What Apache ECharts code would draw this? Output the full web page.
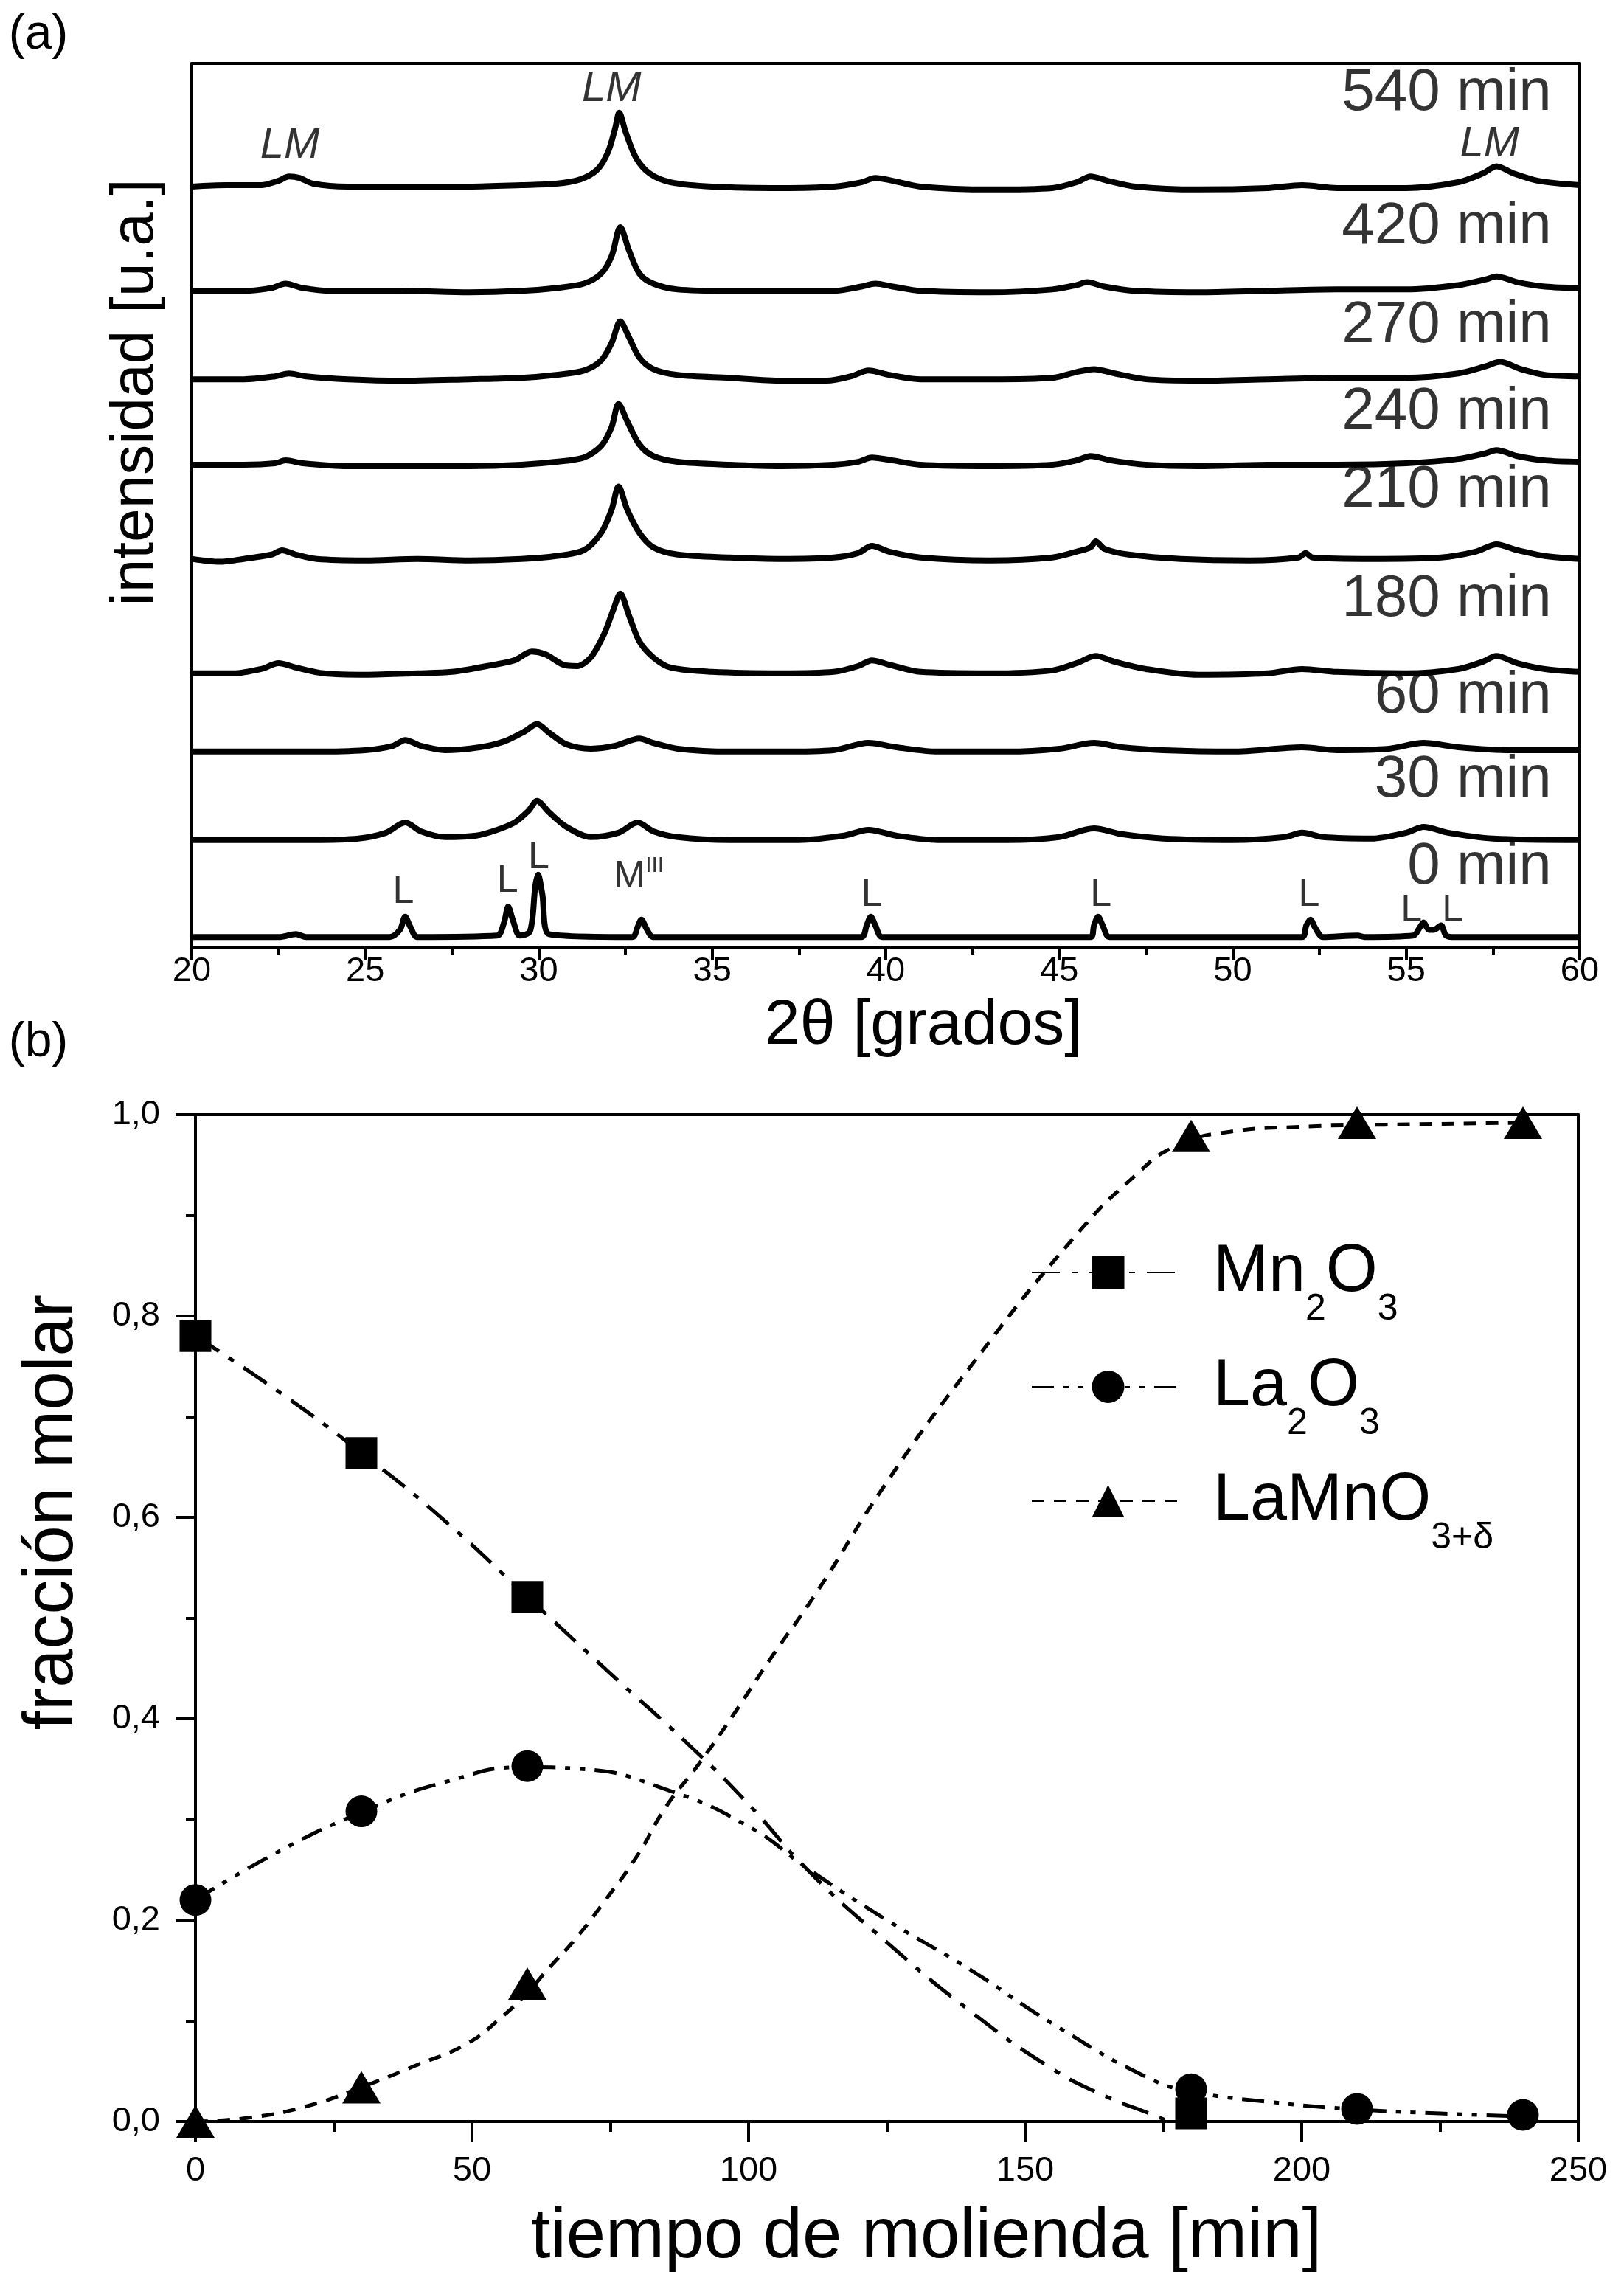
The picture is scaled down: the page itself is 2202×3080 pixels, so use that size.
<!DOCTYPE html>
<html>
<head>
<meta charset="utf-8">
<script src="https://cdn.jsdelivr.net/npm/echarts@6/dist/echarts.min.js"></script>
<style>html,body{margin:0;padding:0;background:#fff}#c{width:2202px;height:3080px}</style>
</head>
<body>
<div id="c"></div>
<script>
// ================= Panel (a): XRD patterns =================
// [2theta (grados), intensity in arbitrary offset units]
const xrd540 = [[20,528],[21,529],[22,529],[22.5,532],[22.8,535],[23.1,534],[23.5,530],[24.5,528],[26,528],[28,528],[29.5,529],[30.5,530],[31.2,533],[31.7,540],[32.0,552],[32.2,568],[32.32,579],[32.5,566],[32.8,548],[33.2,537],[33.8,531],[35,528],[37,527],[38.5,528],[39.3,531],[39.7,534],[40.2,532],[41,528],[43,526],[44.8,527],[45.5,531],[45.9,535],[46.4,532],[47.2,528],[49,526],[51,527],[52,529],[53,527],[55,527],[56.5,531],[57.2,537],[57.6,542],[58.1,537],[58.8,532],[60,529]];
const xrd420 = [[20,456],[21.5,456],[22.3,458],[22.7,461],[23.2,458],[24,456],[26,456],[28,455],[29.5,456],[30.5,458],[31.3,461],[31.8,468],[32.1,480],[32.35,500],[32.6,484],[32.9,468],[33.3,461],[34,457],[35.5,456],[37,456],[38.5,456],[39.3,459],[39.7,461],[40.2,459],[41,456],[43,455],[44.8,457],[45.5,460],[45.8,462],[46.3,459],[47.2,456],[49,455],[51,456],[53,457],[55,457],[56.5,460],[57.3,464],[57.6,466],[58.2,462],[59,459],[60,458]];
const xrd270 = [[20,395],[21.5,395],[22.4,397],[22.8,399],[23.3,397],[24.5,395],[26,394],[28,395],[29.5,396],[30.5,398],[31.3,401],[31.8,408],[32.1,420],[32.35,435],[32.6,424],[32.9,410],[33.3,402],[34,398],[35.5,396],[37,394],[38.3,394],[39,397],[39.5,401],[40.1,398],[41,395],[43,395],[44.8,396],[45.5,400],[46,402],[46.6,399],[47.5,395],[49,394],[51,395],[53,396],[55,396],[56.5,399],[57.3,404],[57.7,407],[58.3,402],[59,398],[60,397]];
const xrd240 = [[20,336],[21.5,336],[22.4,337],[22.7,339],[23.2,337],[24.5,335],[26,335],[28,335],[29.5,336],[30.5,338],[31.3,341],[31.8,349],[32.1,362],[32.3,378],[32.55,366],[32.9,350],[33.3,342],[34,338],[35.5,336],[37,335],[38.5,336],[39.2,338],[39.6,341],[40.2,339],[41,336],[43,335],[44.8,336],[45.5,339],[45.9,342],[46.5,339],[47.5,336],[49,335],[51,336],[53,336],[55,337],[56.5,340],[57.3,344],[57.6,346],[58.2,342],[59,339],[60,338]];
const xrd210 = [[20,271],[20.8,269],[21.5,271],[22.3,274],[22.6,277],[23.0,274],[23.6,271],[25,270],[26.5,271],[28,270],[29.5,271],[30.5,273],[31.3,277],[31.8,289],[32.1,305],[32.3,321],[32.55,305],[32.9,289],[33.3,279],[34,274],[35.5,272],[37,271],[38.5,272],[39.2,275],[39.6,280],[40.1,276],[41,272],[43,270],[44.8,272],[45.5,276],[45.9,279],[46.05,283],[46.3,278],[47,274],[48.5,271],[50.5,270],[51.9,272],[52.1,275],[52.3,272],[54,271],[56,272],[57,276],[57.6,281],[58.2,277],[59,273],[60,271]];
const xrd180 = [[20,192],[21.2,192],[22.0,195],[22.5,199],[23.0,196],[23.8,192],[25,191],[26.5,192],[27.5,193],[28.5,197],[29.3,201],[29.8,207],[30.2,205],[30.7,198],[31.1,197],[31.5,203],[31.9,220],[32.15,236],[32.35,247],[32.6,232],[32.9,214],[33.3,203],[33.8,196],[35,193],[37,192],[38.5,193],[39.2,197],[39.6,201],[40.1,198],[41,193],[43,192],[44.8,194],[45.5,199],[46.05,204],[46.6,200],[47.5,195],[49,191],[51,192],[52,195],[53,193],[55,192],[56.5,195],[57.2,200],[57.6,204],[58.2,199],[59,195],[60,193]];
const xrd60 = [[20,138],[22,138],[23.5,138],[25,139],[25.8,142],[26.15,146],[26.6,142],[27.3,139],[28.3,141],[29.0,145],[29.6,152],[29.95,157],[30.3,151],[30.8,143],[31.5,140],[32.2,142],[32.9,147],[33.3,144],[34,140],[35.5,138],[37,138],[38.5,139],[39.5,144],[40.3,141],[41.5,138],[43.5,138],[45,140],[46.0,144],[46.8,141],[48,139],[50,138],[52,141],[53,139],[54.5,140],[55.5,144],[56.5,141],[58,139],[60,139]];
const xrd30 = [[20,77],[22,77],[23.5,77],[24.8,78],[25.6,82],[26.15,89],[26.6,83],[27.3,79],[28.2,80],[28.8,84],[29.3,89],[29.7,97],[29.95,104],[30.3,96],[30.8,86],[31.5,79],[32.3,82],[32.85,89],[33.3,83],[34,79],[35.5,77],[37.5,77],[38.8,80],[39.5,84],[40.3,80],[41.5,77],[43.5,77],[45,79],[46.0,85],[46.8,81],[48,78],[50,77],[51.5,79],[52.0,82],[52.6,79],[54,78],[55.0,82],[55.5,86],[56.2,82],[57.5,78],[60,77]];
const xrd0 = [[20,10],[22.5,10],[23.0,12],[23.3,10],[25.7,10],[26.0,15],[26.15,24],[26.3,17],[26.5,10],[28.8,11],[29.0,20],[29.12,31],[29.25,22],[29.45,11],[29.75,14],[29.9,45],[29.98,53],[30.1,40],[30.3,12],[32.7,10],[32.85,17],[32.96,22],[33.1,16],[33.3,10],[39.3,10],[39.45,18],[39.57,24],[39.7,18],[39.9,10],[45.9,10],[46.0,18],[46.12,24],[46.25,18],[46.45,10],[52.0,10],[52.12,18],[52.24,22],[52.36,17],[52.6,10],[53.6,11],[53.8,10],[55.2,11],[55.4,17],[55.5,20],[55.65,15],[55.8,15],[56.0,18],[56.15,11],[56.4,10],[60,10]];

const xrdNames = ['540 min','420 min','270 min','240 min','210 min','180 min','60 min','30 min','0 min'];
const xrdLabelY = [592,500,432,372,318,243,176,118,58];
const xrdLabelX = 59.2;

const peakText = ['L','L','L','MIII','L','L','L','L','L'];
const peakX = [26.1,29.1,30.0,32.88,39.6,46.2,52.2,55.15,56.34];
const peakY = [41,48.6,64.7,51.4,39,39,39,28,28];

const lmText = ['LM','LM','LM'];
const lmX = [22.83,32.1,57.4];
const lmY = [556,595,557];

// ================= Panel (b): molar fractions =================
const millTime = [0,30,60,180,210,240];
const mn2o3Pts = [0.78,0.664,0.521,0.008,null,null];
const la2o3Pts = [0.22,0.308,0.353,0.032,0.0125,0.0066];
const lamno3Pts = [0.0,0.034,0.137,0.979,0.992,0.992];

const mn2o3CurveT = [0,15,30,45,60,75,90,100,111,125,140,155,165,172,176];
const mn2o3CurveV = [0.78,0.725,0.664,0.597,0.521,0.445,0.37,0.315,0.248,0.178,0.11,0.052,0.024,0.009,0.0];
const la2o3CurveT = [0,15,30,45,60,70,85,100,111,125,140,155,172,180,195,210,225,240];
const la2o3CurveV = [0.22,0.268,0.307,0.337,0.352,0.350,0.330,0.293,0.25,0.2,0.151,0.097,0.044,0.03,0.019,0.012,0.008,0.005];
const lamno3CurveT = [0,10,20,30,40,49,55,60,64,68.5,74,80,85,91,97.5,104,112,125,140,159,170,177,187,200,215,240];
const lamno3CurveV = [0,0.004,0.015,0.034,0.056,0.077,0.102,0.128,0.153,0.18,0.219,0.265,0.312,0.355,0.406,0.46,0.523,0.635,0.749,0.879,0.94,0.968,0.983,0.988,0.99,0.992];

const seriesNames = ['Mn2O3','La2O3','LaMnO3+δ'];

// ================= build chart =================
const FONT = '"Liberation Sans", Arial, Helvetica, sans-serif';
const BLACK = '#000';
const chart = echarts.init(document.getElementById('c'), null, {renderer: 'canvas'});

const xrdAll = [xrd540, xrd420, xrd270, xrd240, xrd210, xrd180, xrd60, xrd30, xrd0];
const series = [];

xrdAll.forEach((d, i) => {
  series.push({
    type: 'line', name: 'xrd ' + xrdNames[i], xAxisIndex: 0, yAxisIndex: 0,
    data: d, showSymbol: false, symbol: 'none', smooth: 0.3,
    lineStyle: {color: BLACK, width: 8}, silent: true, z: 3
  });
});

// time labels
series.push({
  type: 'scatter', name: 'timeLabels', xAxisIndex: 0, yAxisIndex: 0, silent: true,
  symbolSize: 1, itemStyle: {color: 'rgba(0,0,0,0)'},
  data: xrdNames.map((n, i) => ({name: n, value: [xrdLabelX, xrdLabelY[i]]})),
  label: {show: true, position: 'left', distance: 0, formatter: p => p.name,
    color: BLACK, fontSize: 80, fontFamily: FONT}
});
// peak labels
series.push({
  type: 'scatter', name: 'peakLabels', xAxisIndex: 0, yAxisIndex: 0, silent: true,
  symbolSize: 1, itemStyle: {color: 'rgba(0,0,0,0)'},
  data: peakText.map((n, i) => ({name: n, value: [peakX[i], peakY[i]]})),
  label: {show: true, position: 'inside',
    formatter: p => p.name === 'MIII' ? '{m|M}{sup|III}' : '{m|L}',
    color: BLACK, fontFamily: FONT,
    rich: {m: {fontSize: 52, fontFamily: FONT, color: BLACK, lineHeight: 60, verticalAlign: 'middle'},
           sup: {fontSize: 30, fontFamily: FONT, color: BLACK, lineHeight: 28, verticalAlign: 'top'}}}
});
// LM labels
series.push({
  type: 'scatter', name: 'lmLabels', xAxisIndex: 0, yAxisIndex: 0, silent: true,
  symbolSize: 1, itemStyle: {color: 'rgba(0,0,0,0)'},
  data: lmText.map((n, i) => ({name: n, value: [lmX[i], lmY[i]]})),
  label: {show: true, position: 'inside', formatter: p => p.name,
    color: BLACK, fontSize: 58, fontStyle: 'italic', fontFamily: FONT}
});

// Panel (b) curves
const curveDefs = [
  {name: seriesNames[0], t: mn2o3CurveT, v: mn2o3CurveV, dash: [38,16,8,16], symbol: 'rect'},
  {name: seriesNames[1], t: la2o3CurveT, v: la2o3CurveV, dash: [30,13,7,13,7,13], symbol: 'circle'},
  {name: seriesNames[2], t: lamno3CurveT, v: lamno3CurveV, dash: [17,13], symbol: 'triangle'}
];
curveDefs.forEach(c => {
  series.push({
    type: 'line', name: c.name, xAxisIndex: 2, yAxisIndex: 2,
    data: c.t.map((t, i) => [t, c.v[i]]), smooth: 0.5,
    symbol: c.symbol, showSymbol: false,
    itemStyle: {color: BLACK},
    lineStyle: {color: BLACK, width: 5, type: c.dash, cap: 'butt'},
    silent: true, z: 3
  });
});
const markerDefs = [
  {pts: mn2o3Pts, symbol: 'rect', size: 43},
  {pts: la2o3Pts, symbol: 'circle', size: 43},
  {pts: lamno3Pts, symbol: 'triangle', size: [52, 44]}
];
markerDefs.forEach((m, k) => {
  series.push({
    type: 'scatter', name: seriesNames[k] + ' datos', xAxisIndex: 2, yAxisIndex: 2,
    data: millTime.map((t, i) => m.pts[i] == null ? null : [t, m.pts[i]]).filter(d => d),
    symbol: m.symbol, symbolSize: m.size, itemStyle: {color: BLACK, opacity: 1},
    silent: true, z: 5
  });
});

const axLine = {show: true, onZero: false, lineStyle: {color: BLACK, width: 4}};
const noAx = {axisTick: {show: false}, axisLabel: {show: false}, splitLine: {show: false}};

const legendRich = {
  'Mn2O3': '{sp| }{m|Mn}{s|2}{m|O}{s|3}',
  'La2O3': '{sp| }{m|La}{s|2}{m|O}{s|3}',
  'LaMnO3+δ': '{sp| }{m|LaMnO}{s|3+δ}'
};

const option = {
  animation: false,
  backgroundColor: '#fff',
  grid: [
    {left: 260, right: 60, top: 86, bottom: 3080 - 1284, outerBoundsMode: 'none', containLabel: false},
    {left: 265, right: 62, top: 1511, bottom: 3080 - 2876, outerBoundsMode: 'none', containLabel: false}
  ],
  xAxis: [
    {type: 'value', gridIndex: 0, min: 20, max: 60, interval: 5, position: 'bottom',
     axisLine: axLine, axisTick: {show: true, length: 18, lineStyle: {color: BLACK, width: 4}},
     minorTick: {show: true, splitNumber: 2, length: 10, lineStyle: {color: BLACK, width: 4}},
     axisLabel: {color: BLACK, fontSize: 47, fontFamily: FONT, margin: 10},
     splitLine: {show: false}, minorSplitLine: {show: false}},
    Object.assign({type: 'value', gridIndex: 0, min: 20, max: 60, position: 'top', axisLine: axLine}, noAx),
    {type: 'value', gridIndex: 1, min: 0, max: 250, interval: 50, position: 'bottom',
     axisLine: axLine, axisTick: {show: true, length: 28, lineStyle: {color: BLACK, width: 4}},
     minorTick: {show: true, splitNumber: 2, length: 14, lineStyle: {color: BLACK, width: 4}},
     axisLabel: {color: BLACK, fontSize: 47, fontFamily: FONT, margin: 44},
     splitLine: {show: false}, minorSplitLine: {show: false}},
    Object.assign({type: 'value', gridIndex: 1, min: 0, max: 250, position: 'top', axisLine: axLine}, noAx)
  ],
  yAxis: [
    Object.assign({type: 'value', gridIndex: 0, min: 3, max: 613, position: 'left', axisLine: axLine}, noAx),
    Object.assign({type: 'value', gridIndex: 0, min: 3, max: 613, position: 'right', axisLine: axLine}, noAx),
    {type: 'value', gridIndex: 1, min: 0, max: 1, interval: 0.2, position: 'left',
     axisLine: axLine, axisTick: {show: true, length: 27, lineStyle: {color: BLACK, width: 4}},
     minorTick: {show: true, splitNumber: 2, length: 13, lineStyle: {color: BLACK, width: 4}},
     axisLabel: {color: BLACK, fontSize: 47, fontFamily: FONT, margin: 48,
       formatter: v => v.toFixed(1).replace('.', ',')},
     splitLine: {show: false}, minorSplitLine: {show: false}},
    Object.assign({type: 'value', gridIndex: 1, min: 0, max: 1, position: 'right', axisLine: axLine}, noAx)
  ],
  legend: {
    data: seriesNames, orient: 'vertical', left: 1398, top: 1680, padding: 0,
    itemGap: 35, itemWidth: 207, itemHeight: 55, selectedMode: false,
    formatter: n => legendRich[n],
    textStyle: {color: BLACK, fontFamily: FONT,
      rich: {
        sp: {width: 34, fontSize: 20},
        m: {fontSize: 90, fontFamily: FONT, color: BLACK, lineHeight: 150, verticalAlign: 'middle'},
        s: {fontSize: 50, fontFamily: FONT, color: BLACK, lineHeight: 50, verticalAlign: 'bottom'}
      }}
  },
  graphic: [
    {type: 'text', x: 52, y: 48, style: {text: '(a)', fontSize: 66, fontFamily: FONT, fill: BLACK, align: 'center', verticalAlign: 'middle'}},
    {type: 'text', x: 52, y: 1414, style: {text: '(b)', fontSize: 66, fontFamily: FONT, fill: BLACK, align: 'center', verticalAlign: 'middle'}},
    {type: 'text', x: 1252, y: 1391, style: {text: '2θ [grados]', fontSize: 86, fontFamily: FONT, fill: BLACK, align: 'center', verticalAlign: 'middle'}},
    {type: 'text', x: 184, y: 532, rotation: Math.PI / 2, style: {text: 'intensidad [u.a.]', fontSize: 82, fontFamily: FONT, fill: BLACK, align: 'center', verticalAlign: 'middle'}},
    {type: 'text', x: 72, y: 2050, rotation: Math.PI / 2, style: {text: 'fracción molar', fontSize: 94, fontFamily: FONT, fill: BLACK, align: 'center', verticalAlign: 'middle'}},
    {type: 'text', x: 1256, y: 3034, style: {text: 'tiempo de molienda [min]', fontSize: 96, fontFamily: FONT, fill: BLACK, align: 'center', verticalAlign: 'middle'}}
  ],
  series: series
};
chart.setOption(option);
</script>
</body>
</html>
